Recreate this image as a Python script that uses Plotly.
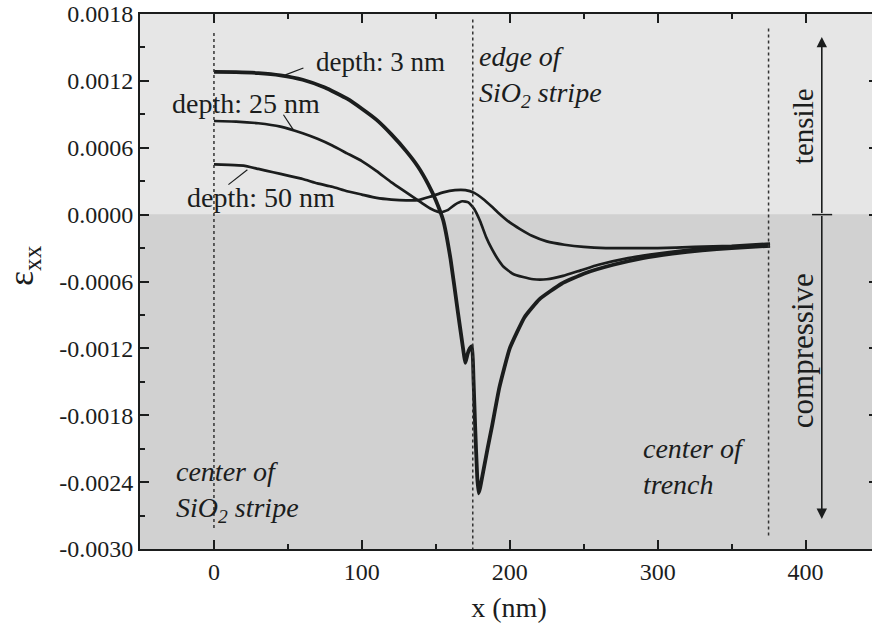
import plotly.graph_objects as go

# ---------------- data ----------------
x_3nm = [0, 15, 30, 45, 60, 75, 90, 100, 110, 120, 130, 138, 145, 150, 155, 160, 165, 168, 170, 171.5, 173,
         174.5, 175.5, 176.7, 178, 179, 180, 182, 185, 188, 193, 200, 210, 220, 235, 250, 270, 290, 310, 330,
         350, 376]
y_3nm = [0.00128, 0.001278, 0.00127, 0.00125, 0.00121, 0.00114, 0.00104, 0.00095, 0.00085, 0.00072, 0.00057,
         0.00043, 0.00027, 0.00013, -0.00005, -0.0004, -0.00088, -0.00116, -0.00133, -0.00125, -0.0012,
         -0.00118, -0.00148, -0.00193, -0.00235, -0.0025, -0.00245, -0.00231, -0.0021, -0.0019, -0.00155,
         -0.0012, -0.00092, -0.00076, -0.00062, -0.00053, -0.00045, -0.00039, -0.00035, -0.00032, -0.0003,
         -0.00028]

x_25nm = [0, 15, 30, 45, 60, 70, 80, 90, 100, 110, 120, 130, 140, 147, 153, 158, 163, 168, 172, 176, 180, 184,
          188, 192, 196, 202, 209, 216, 225, 236, 248, 260, 280, 300, 325, 350, 376]
y_25nm = [0.00084, 0.000835, 0.00082, 0.00079, 0.00073, 0.00068, 0.00062, 0.00055, 0.00048, 0.00039, 0.00029,
          0.0002, 0.00011, 0.00005, 0.00002, 0.00004, 0.00009, 0.00012, 0.00011, 0.00005, -0.00006, -0.0002,
          -0.00031, -0.0004, -0.00047, -0.00053, -0.00056, -0.00058, -0.00058, -0.00055, -0.0005, -0.00045,
          -0.00039, -0.00035, -0.00031, -0.00029, -0.00028]

x_50nm = [0, 10, 20, 30, 40, 50, 60, 70, 80, 90, 100, 110, 120, 130, 138, 146, 155, 163, 170, 176, 182, 188,
          192, 200, 207, 215, 225, 237, 250, 265, 280, 300, 325, 350, 376]
y_50nm = [0.00045, 0.000447, 0.00044, 0.00041, 0.00038, 0.00035, 0.00032, 0.00028, 0.00025, 0.00021, 0.00018,
          0.00015, 0.000135, 0.000128, 0.00013, 0.00016, 0.0002, 0.00022, 0.00022, 0.000195, 0.00014, 0.00007,
          0.00002, -0.00007, -0.00013, -0.00019, -0.00024, -0.00027, -0.00029, -0.0003, -0.0003, -0.0003,
          -0.00029, -0.00028, -0.00026]

marker_x = [0, 175, 375]  # center of SiO2 stripe, edge of stripe, center of trench

x_ticks = [0, 100, 200, 300, 400]
y_ticks = [0.0018, 0.0012, 0.0006, 0.0, -0.0006, -0.0012, -0.0018, -0.0024, -0.0030]
y_ticktext = ["0.0018", "0.0012", "0.0006", "0.0000", "-0.0006", "-0.0012", "-0.0018", "-0.0024", "-0.0030"]

X_RANGE = [-50, 449]
Y_RANGE = [-0.0030, 0.0018]

FONT = "Liberation Serif"
INK = "#1b1d1d"

fig = go.Figure()

for xs, ys, w in [(x_3nm, y_3nm, 3.8), (x_25nm, y_25nm, 2.7), (x_50nm, y_50nm, 2.7)]:
    fig.add_trace(go.Scatter(x=xs, y=ys, mode="lines", line=dict(color=INK, width=w, shape="spline", smoothing=0.4),
                             showlegend=False, hoverinfo="skip"))

shapes = [
    dict(type="rect", xref="paper", yref="y", x0=0, x1=1, y0=0, y1=Y_RANGE[1],
         fillcolor="#e6e6e6", line_width=0, layer="below"),
    dict(type="rect", xref="paper", yref="y", x0=0, x1=1, y0=Y_RANGE[0], y1=0,
         fillcolor="#d1d1d1", line_width=0, layer="below"),
    dict(type="line", xref="x", yref="y", x0=marker_x[0], x1=marker_x[0], y0=0.00163, y1=-0.00282,
         line=dict(color="#333", width=1.5, dash="dot")),
    dict(type="line", xref="x", yref="y", x0=marker_x[1], x1=marker_x[1], y0=0.00175, y1=-0.0030,
         line=dict(color="#333", width=1.5, dash="dot")),
    dict(type="line", xref="x", yref="y", x0=marker_x[2], x1=marker_x[2], y0=0.00167, y1=-0.0029,
         line=dict(color="#333", width=1.5, dash="dot")),
    dict(type="line", xref="x", yref="y", x0=60.5, y0=0.001316, x1=48.3, y1=0.001254, line=dict(color=INK, width=1.2)),
    dict(type="line", xref="x", yref="y", x0=47, y0=0.000896, x1=53.7, y1=0.000761, line=dict(color=INK, width=1.2)),
    dict(type="line", xref="x", yref="y", x0=9.8, y0=0.000269, x1=22.6, y1=0.000403, line=dict(color=INK, width=1.2)),
    dict(type="line", xref="x", yref="y", x0=404.4, x1=418, y0=0, y1=0, line=dict(color=INK, width=1.5)),
]

ann = []
def txt(x, y, text, size=27, italic=False, xanchor="center", yanchor="middle", angle=0, align="left"):
    ann.append(dict(x=x, y=y, xref="x", yref="y", text=text, showarrow=False,
                    font=dict(family=FONT, size=size, color=INK,
                              style="italic" if italic else "normal"),
                    xanchor=xanchor, yanchor=yanchor, textangle=angle, align=align))

txt(112.5, 0.00137, "depth: 3 nm")
txt(22, 0.000994, "depth: 25 nm", size=28)
txt(32, 0.000152, "depth: 50 nm", size=28)
txt(178, 0.00158, "edge of<br>SiO<sub>2</sub> stripe", size=28, italic=True, xanchor="left", yanchor="top")
txt(-27, -0.002147, "center of<br>SiO<sub>2</sub> stripe", size=28, italic=True, xanchor="left", yanchor="top")
txt(289, -0.00194, "center of<br>trench", size=28, italic=True, xanchor="left", yanchor="top")
txt(398, 0.00079, "tensile", size=29, angle=-90)
txt(398, -0.00122, "compressive", size=31, angle=-90)

for tip in [0.001594, -0.00273]:
    ann.append(dict(x=411, y=tip, xref="x", yref="y", ax=411, ay=0, axref="x", ayref="y",
                    text="", showarrow=True, arrowhead=2, arrowsize=1.3, arrowwidth=1.6, arrowcolor=INK))

ann.append(dict(x=-0.157, y=-0.00046, xref="paper", yref="y", text="ε<sub>xx</sub>", showarrow=False,
                textangle=-90, font=dict(family=FONT, size=36, color=INK), xanchor="center", yanchor="middle"))

axis_common = dict(showline=True, linewidth=2, linecolor=INK, mirror="ticks", ticks="inside",
                   ticklen=9, tickwidth=2, tickcolor=INK, showgrid=False, zeroline=False, automargin=False,
                   tickfont=dict(family=FONT, size=24, color=INK))

fig.update_layout(
    width=878, height=629,
    margin=dict(l=140, r=0, t=14, b=80),
    paper_bgcolor="white", plot_bgcolor="#d1d1d1",
    shapes=shapes, annotations=ann,
    xaxis=dict(range=X_RANGE, tickvals=x_ticks, ticktext=[str(v) for v in x_ticks],
               minor=dict(dtick=50, tick0=0, ticks="inside", ticklen=5, tickwidth=2, tickcolor=INK),
               title=dict(text="x (nm)", font=dict(family=FONT, size=28, color=INK), standoff=14),
               **axis_common),
    yaxis=dict(range=Y_RANGE, tickvals=y_ticks, ticktext=y_ticktext,
               minor=dict(dtick=0.0003, tick0=0, ticks="inside", ticklen=5, tickwidth=2, tickcolor=INK),
               **axis_common),
)

fig.write_html("out.html", config={"displayModeBar": False},
               post_script="document.body.style.margin='0';document.body.style.overflow='hidden';")
